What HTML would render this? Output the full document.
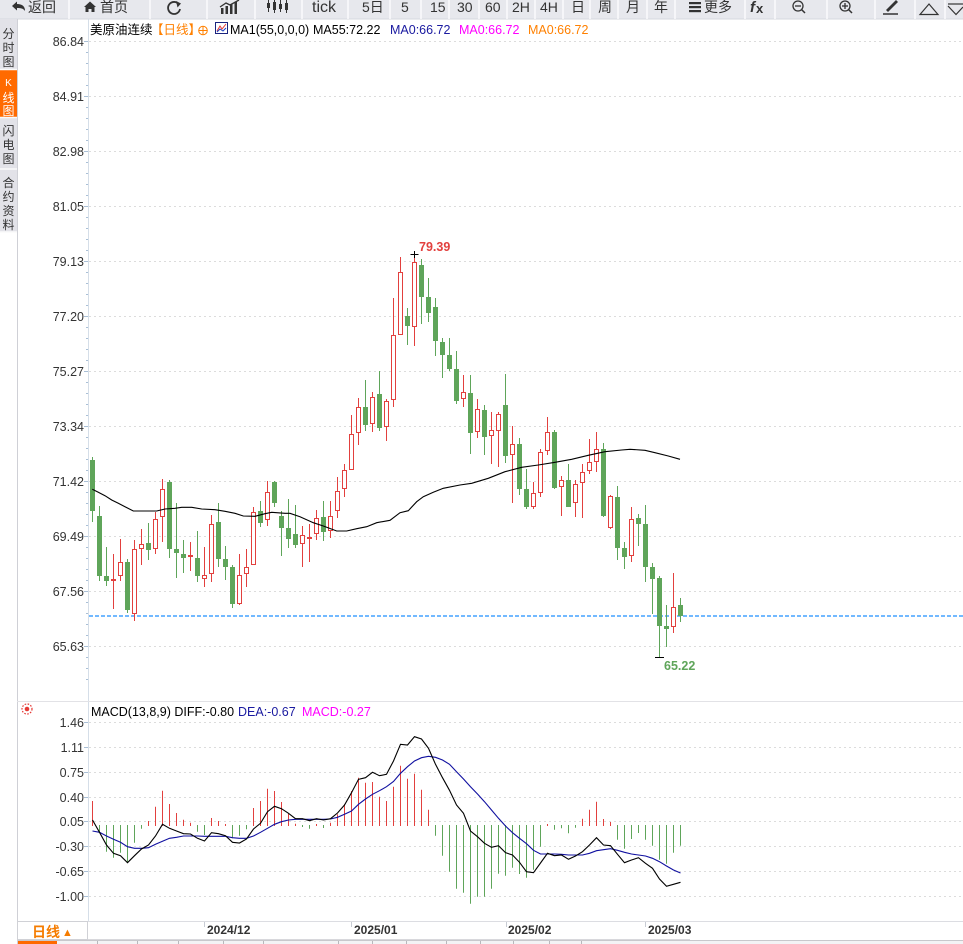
<!DOCTYPE html>
<html><head><meta charset="utf-8"><style>
html,body{margin:0;padding:0;background:#fff;width:963px;height:944px;overflow:hidden}
svg{display:block}
text{font-family:"Liberation Sans","Noto Sans CJK SC",sans-serif}
</style></head><body>
<svg width="963" height="944" viewBox="0 0 963 944" xmlns="http://www.w3.org/2000/svg">
<rect width="963" height="944" fill="#fff"/>
<!-- toolbar -->
<rect x="0" y="0" width="963" height="19" fill="#e7e8ed"/>
<line x1="0" y1="19" x2="963" y2="19" stroke="#d6d7de"/>
<g stroke="#fbfbfd" stroke-width="1.5">
<line x1="69" y1="0" x2="69" y2="19"/><line x1="150" y1="0" x2="150" y2="19"/><line x1="207" y1="0" x2="207" y2="19"/><line x1="255" y1="0" x2="255" y2="19"/><line x1="302" y1="0" x2="302" y2="19"/><line x1="348" y1="0" x2="348" y2="19"/><line x1="390" y1="0" x2="390" y2="19"/><line x1="421" y1="0" x2="421" y2="19"/><line x1="449" y1="0" x2="449" y2="19"/><line x1="479" y1="0" x2="479" y2="19"/><line x1="507" y1="0" x2="507" y2="19"/><line x1="535" y1="0" x2="535" y2="19"/><line x1="563" y1="0" x2="563" y2="19"/><line x1="590" y1="0" x2="590" y2="19"/><line x1="618" y1="0" x2="618" y2="19"/><line x1="647" y1="0" x2="647" y2="19"/><line x1="675" y1="0" x2="675" y2="19"/><line x1="745" y1="0" x2="745" y2="19"/><line x1="775" y1="0" x2="775" y2="19"/><line x1="827" y1="0" x2="827" y2="19"/><line x1="875" y1="0" x2="875" y2="19"/><line x1="915" y1="0" x2="915" y2="19"/><line x1="945" y1="0" x2="945" y2="19"/>
</g>
<g fill="#333" font-size="14">
<path d="M12 6 L17 1.5 V4 Q25 4 25 11 Q23 7.5 17 8 V10.5 Z" fill="#333"/>
<text x="28" y="12">返回</text>
<path d="M84 7 L90 1.5 L96 7 H94.5 V12 H91.5 V9 H88.5 V12 H85.5 V7 Z" fill="#333"/>
<text x="100" y="12">首页</text>
<path d="M179 4.5 A6 6 0 1 0 180 9" fill="none" stroke="#333" stroke-width="1.8"/>
<path d="M176 1 L181 3.5 L177.5 7.5 Z" fill="#333"/>
<rect x="221" y="8" width="2.5" height="6" /><rect x="225.5" y="6" width="2.5" height="8"/><rect x="230" y="4" width="2.5" height="10"/><rect x="234.5" y="2" width="2.5" height="12"/>
<path d="M220 7 L226 3 L230 5 L239 0" fill="none" stroke="#333" stroke-width="1.3"/>
<g stroke="#333" stroke-width="1"><line x1="268.5" y1="0" x2="268.5" y2="12"/><line x1="274.5" y1="0" x2="274.5" y2="13"/><line x1="280.5" y1="0" x2="280.5" y2="12"/><line x1="286.5" y1="0" x2="286.5" y2="13"/></g>
<rect x="267" y="3" width="3" height="5"/><rect x="273" y="2" width="3" height="8"/><rect x="279" y="4" width="3" height="5"/><rect x="285" y="3" width="3" height="7"/>
<text x="312" y="12" font-size="16">tick</text>
<text x="362" y="12">5日</text>
<text x="401" y="12">5</text>
<text x="430" y="12">15</text>
<text x="457" y="12">30</text>
<text x="485" y="12">60</text>
<text x="512" y="12">2H</text>
<text x="540" y="12">4H</text>
<text x="571" y="12">日</text>
<text x="598" y="12">周</text>
<text x="626" y="12">月</text>
<text x="654" y="12">年</text>
<rect x="689" y="2" width="12" height="2.2"/><rect x="689" y="6" width="12" height="2.2"/><rect x="689" y="10" width="12" height="2.2"/>
<text x="704" y="12">更多</text>
<text x="750" y="12" font-style="italic" font-weight="bold" font-size="15">f</text><text x="756" y="13" font-weight="bold" font-size="13">x</text>
<circle cx="798" cy="6" r="5" fill="none" stroke="#333" stroke-width="1.3"/><line x1="795" y1="6" x2="801" y2="6" stroke="#333" stroke-width="1.3"/><line x1="801.5" y1="9.5" x2="805" y2="13" stroke="#333" stroke-width="1.5"/>
<circle cx="845" cy="6" r="5" fill="none" stroke="#333" stroke-width="1.3"/><line x1="842" y1="6" x2="848" y2="6" stroke="#333" stroke-width="1.3"/><line x1="845" y1="3" x2="845" y2="9" stroke="#333" stroke-width="1.3"/><line x1="848.5" y1="9.5" x2="852" y2="13" stroke="#333" stroke-width="1.5"/>
<path d="M886 10 L896 0 L898 2 L888 12 Z" /><line x1="883" y1="14" x2="898" y2="14" stroke="#333" stroke-width="1.5"/>
<path d="M920 14.5 L929 4 L938 14.5 Z" fill="none" stroke="#333" stroke-width="1.2"/>
<line x1="948" y1="4" x2="963" y2="4" stroke="#333" stroke-width="1.2"/><path d="M948 6 L956 14.5 L963 7" fill="none" stroke="#333" stroke-width="1.2"/>
</g>
<!-- sidebar -->
<rect x="0" y="19" width="17" height="213" fill="#e2e2e8"/>
<rect x="0" y="70" width="17" height="47" fill="#ff6a00"/>
<g stroke="#fafafa" stroke-width="1.5"><line x1="0" y1="69.5" x2="17" y2="69.5"/><line x1="0" y1="117.5" x2="17" y2="117.5"/><line x1="0" y1="169" x2="17" y2="169"/><line x1="0" y1="232" x2="17" y2="232"/></g>
<line x1="17.5" y1="19" x2="17.5" y2="944" stroke="#cfd0d6"/>
<g font-size="12" fill="#333" text-anchor="middle">
<text x="8.5" y="38">分</text><text x="8.5" y="52">时</text><text x="8.5" y="66">图</text>
<text x="8.5" y="86" fill="#fff" font-size="10">K</text><text x="8.5" y="102" fill="#fff">线</text><text x="8.5" y="115" fill="#fff">图</text>
<text x="8.5" y="135">闪</text><text x="8.5" y="149">电</text><text x="8.5" y="163">图</text>
<text x="8.5" y="187">合</text><text x="8.5" y="201">约</text><text x="8.5" y="215">资</text><text x="8.5" y="229">料</text>
</g>
<!-- axis -->
<line x1="88.5" y1="19" x2="88.5" y2="921" stroke="#d5dee8"/>
<g stroke="#dcdcdc" stroke-dasharray="2 3">
<line x1="89" y1="41.5" x2="963" y2="41.5"/><line x1="89" y1="96.5" x2="963" y2="96.5"/><line x1="89" y1="151.5" x2="963" y2="151.5"/><line x1="89" y1="206.5" x2="963" y2="206.5"/><line x1="89" y1="261.5" x2="963" y2="261.5"/><line x1="89" y1="316.5" x2="963" y2="316.5"/><line x1="89" y1="371.5" x2="963" y2="371.5"/><line x1="89" y1="426.5" x2="963" y2="426.5"/><line x1="89" y1="481.5" x2="963" y2="481.5"/><line x1="89" y1="536.5" x2="963" y2="536.5"/><line x1="89" y1="591.5" x2="963" y2="591.5"/><line x1="89" y1="646.5" x2="963" y2="646.5"/>
<line x1="89" y1="722.5" x2="963" y2="722.5"/><line x1="89" y1="747.5" x2="963" y2="747.5"/><line x1="89" y1="772.5" x2="963" y2="772.5"/><line x1="89" y1="797.5" x2="963" y2="797.5"/><line x1="89" y1="821.5" x2="963" y2="821.5"/><line x1="89" y1="846.5" x2="963" y2="846.5"/><line x1="89" y1="871.5" x2="963" y2="871.5"/><line x1="89" y1="896.5" x2="963" y2="896.5"/>
</g>
<g stroke="#a9bfd6">
<path d="M84 41.5H88M84 96.5H88M84 151.5H88M84 206.5H88M84 261.5H88M84 316.5H88M84 371.5H88M84 426.5H88M84 481.5H88M84 536.5H88M84 591.5H88M84 646.5H88"/>
<path d="M84 722.5H88M84 747.5H88M84 772.5H88M84 797.5H88M84 821.5H88M84 846.5H88M84 871.5H88M84 896.5H88"/>
<path d="M86 52.5H88M86 63.5H88M86 74.5H88M86 85.5H88M86 107.5H88M86 118.5H88M86 129.5H88M86 140.5H88M86 162.5H88M86 173.5H88M86 184.5H88M86 195.5H88M86 217.5H88M86 228.5H88M86 239.5H88M86 250.5H88M86 272.5H88M86 283.5H88M86 294.5H88M86 305.5H88M86 327.5H88M86 338.5H88M86 349.5H88M86 360.5H88M86 382.5H88M86 393.5H88M86 404.5H88M86 415.5H88M86 437.5H88M86 448.5H88M86 459.5H88M86 470.5H88M86 492.5H88M86 503.5H88M86 514.5H88M86 525.5H88M86 547.5H88M86 558.5H88M86 569.5H88M86 580.5H88M86 602.5H88M86 613.5H88M86 624.5H88M86 635.5H88M86 657.5H88M86 668.5H88M86 679.5H88"/>
</g>
<g font-size="12.5" fill="#333" text-anchor="end">
<text x="84" y="46">86.84</text><text x="84" y="101">84.91</text><text x="84" y="156">82.98</text><text x="84" y="211">81.05</text><text x="84" y="266">79.13</text><text x="84" y="321">77.20</text><text x="84" y="376">75.27</text><text x="84" y="431">73.34</text><text x="84" y="486">71.42</text><text x="84" y="541">69.49</text><text x="84" y="596">67.56</text><text x="84" y="651">65.63</text>
<text x="84" y="727">1.46</text><text x="84" y="752">1.11</text><text x="84" y="777">0.75</text><text x="84" y="802">0.40</text><text x="84" y="826">0.05</text><text x="84" y="851">-0.30</text><text x="84" y="876">-0.65</text><text x="84" y="901">-1.00</text>
</g>
<!-- legend -->
<g font-size="12.5">
<text x="90" y="34" fill="#000">美原油连续</text>
<text x="151" y="34" fill="#ff8000">【日线】</text>
<circle cx="203" cy="30.5" r="4.3" fill="none" stroke="#ff8000" stroke-width="1"/><path d="M198.7 30.5H207.3M203 26.2V34.8" stroke="#ff8000" stroke-width="1"/>
<rect x="215.5" y="22.5" width="12" height="11" fill="#fff" stroke="#1a237e"/><path d="M217 31 L220 26 L222 29 L226 24" fill="none" stroke="#e53935" stroke-width="1"/><path d="M217 32 L220 29 L223 31 L226 28" fill="none" stroke="#1e40c0" stroke-width="1"/>
<text x="230" y="34" fill="#000">MA1(55,0,0,0)</text>
<text x="313" y="34" fill="#000">MA55:72.22</text>
<text x="390" y="34" fill="#1a1aa0">MA0:66.72</text>
<text x="459" y="34" fill="#ff00ff">MA0:66.72</text>
<text x="528" y="34" fill="#ff8000">MA0:66.72</text>
</g>
<!-- dashed current price -->
<line x1="89" y1="616" x2="963" y2="616" stroke="#1e8fff" stroke-width="1.2" stroke-dasharray="4 2"/>
<!-- candles -->
<g fill="none" stroke="#5fa55a" stroke-width="1">
<path d="M92.5 457V522 M99.5 506V581 M106.5 547V586 M127.5 559V613 M148.5 523V560 M169.5 480V558 M176.5 503V578 M183.5 540V573 M197.5 531V582 M218.5 503V567 M225.5 546V580 M232.5 565V608 M260.5 501V527 M274.5 481V507 M281.5 511V556 M288.5 499V548 M295.5 505V548 M323.5 501V541 M365.5 380V431 M379.5 371V431 M407.5 308V345 M421.5 259V324 M428.5 278V322 M435.5 298V356 M442.5 338V378 M449.5 338V371 M456.5 351V404 M470.5 375V454 M484.5 405V455 M505.5 374V463 M519.5 438V495 M526.5 469V509 M554.5 430V489 M568.5 464V507 M603.5 443V517 M617.5 486V560 M624.5 542V569 M638.5 514V546 M645.5 505V582 M652.5 563V614 M659.5 576V657 M666.5 605V647 M680.5 598V622"/>
</g>
<path fill="#5fa55a" d="M90 460h5V511h-5Z M97 516h5V576h-5Z M104 576h5V581h-5Z M125 562h5V610h-5Z M146 543h5V550h-5Z M167 482h5V549h-5Z M174 549h5V553h-5Z M181 554h5V558h-5Z M195 558h5V576h-5Z M216 522h5V559h-5Z M223 559h5V567h-5Z M230 567h5V604h-5Z M258 511h5V523h-5Z M272 482h5V503h-5Z M279 516h5V528h-5Z M286 528h5V539h-5Z M293 534h5V545h-5Z M321 517h5V532h-5Z M363 407h5V425h-5Z M377 394h5V428h-5Z M405 316h5V326h-5Z M419 265h5V297h-5Z M426 297h5V313h-5Z M433 307h5V341h-5Z M440 342h5V355h-5Z M447 355h5V369h-5Z M454 369h5V401h-5Z M468 393h5V433h-5Z M482 410h5V437h-5Z M503 405h5V456h-5Z M517 444h5V489h-5Z M524 489h5V507h-5Z M552 432h5V488h-5Z M566 480h5V507h-5Z M601 449h5V516h-5Z M615 497h5V548h-5Z M622 548h5V557h-5Z M636 518h5V524h-5Z M643 524h5V567h-5Z M650 567h5V579h-5Z M657 578h5V626h-5Z M664 626h5V629h-5Z M678 605h5V616h-5Z"/>
<path fill="none" stroke="#e2403e" stroke-width="1" d="M113.5 554V609 M120.5 539V581 M134.5 540V621 M141.5 529V565 M155.5 512V554 M162.5 479V542 M190.5 542V571 M204.5 547V587 M211.5 515V582 M239.5 554V605 M246.5 549V587 M253.5 507V565 M267.5 481V526 M302.5 526V567 M309.5 524V562 M316.5 510V540 M330.5 501V538 M337.5 477V518 M344.5 464V497 M351.5 415V470 M358.5 398V445 M372.5 392V432 M386.5 399V441 M393.5 298V407 M400.5 257V335 M414.5 254V346 M463.5 375V407 M477.5 399V438 M491.5 412V464 M498.5 412V467 M512.5 426V503 M533.5 482V509 M540.5 449V497 M547.5 417V455 M561.5 476V516 M575.5 480V517 M582.5 464V518 M589.5 439V474 M596.5 432V472 M610.5 495V529 M631.5 507V562 M673.5 573V633"/>
<path fill="#fff" stroke="#e2403e" stroke-width="1" d="M111.5 579.5h4V580.5h-4Z M118.5 562.5h4V575.5h-4Z M132.5 549.5h4V613.5h-4Z M139.5 544.5h4V548.5h-4Z M153.5 519.5h4V548.5h-4Z M160.5 489.5h4V516.5h-4Z M188.5 555.5h4V556.5h-4Z M202.5 575.5h4V578.5h-4Z M209.5 524.5h4V573.5h-4Z M237.5 575.5h4V603.5h-4Z M244.5 567.5h4V573.5h-4Z M251.5 512.5h4V564.5h-4Z M265.5 492.5h4V519.5h-4Z M300.5 535.5h4V543.5h-4Z M307.5 537.5h4V538.5h-4Z M314.5 518.5h4V533.5h-4Z M328.5 516.5h4V530.5h-4Z M335.5 491.5h4V510.5h-4Z M342.5 470.5h4V488.5h-4Z M349.5 434.5h4V469.5h-4Z M356.5 407.5h4V432.5h-4Z M370.5 397.5h4V423.5h-4Z M384.5 401.5h4V426.5h-4Z M391.5 335.5h4V399.5h-4Z M398.5 272.5h4V334.5h-4Z M412.5 262.5h4V326.5h-4Z M461.5 392.5h4V398.5h-4Z M475.5 409.5h4V431.5h-4Z M489.5 430.5h4V435.5h-4Z M496.5 414.5h4V430.5h-4Z M510.5 444.5h4V454.5h-4Z M531.5 493.5h4V506.5h-4Z M538.5 452.5h4V492.5h-4Z M545.5 432.5h4V450.5h-4Z M559.5 480.5h4V486.5h-4Z M573.5 484.5h4V502.5h-4Z M580.5 472.5h4V482.5h-4Z M587.5 462.5h4V470.5h-4Z M594.5 449.5h4V461.5h-4Z M608.5 496.5h4V527.5h-4Z M629.5 519.5h4V555.5h-4Z M671.5 607.5h4V626.5h-4Z"/>
<!-- MA55 -->
<polyline fill="none" stroke="#000" stroke-width="1.1" points="92.3,489.3 98.3,492.3 105,495.7 111.7,500 118.3,503.3 125,506.7 133.3,511 156.7,511 165,509 175,508.3 181.7,507.3 191.7,507.3 201.7,509 215,509.7 225,511.3 235,513.3 243.3,516 255,516.3 265,513.7 271.7,512.3 285,513.3 290,513.3 300,516.7 313.3,522.7 323.3,526 336.7,531 346.7,531 356.7,528.7 366.7,526.7 376.7,522.7 390,520.3 400,512.7 408.3,510.7 416.7,501.7 423.3,496.7 433.3,492.3 443.3,488.3 460,485 471.7,483.3 488.3,478.3 505,471.7 521.7,467.3 538.3,465 555,462.3 571.7,459.3 588.3,455.3 605,451.7 621.7,450 630,449.3 645,450.3 655,452.7 668.3,456 680,459.3"/>
<!-- high/low markers -->
<path d="M410.5 254.5h8M414.5 251v7" stroke="#000" stroke-width="1"/>
<text x="419" y="251" font-size="12.5" font-weight="bold" fill="#e2403e">79.39</text>
<path d="M655 657.5h9" stroke="#000" stroke-width="1"/>
<text x="664" y="670" font-size="12.5" font-weight="bold" fill="#5fa55a">65.22</text>
<!-- panel separator -->
<line x1="17" y1="701.5" x2="963" y2="701.5" stroke="#e2e2e6"/>
<!-- MACD legend -->
<circle cx="27" cy="709" r="2.3" fill="#e53935"/><circle cx="27" cy="709" r="5" fill="none" stroke="#e53935" stroke-width="1.2" stroke-dasharray="1.6 1.4"/>
<g font-size="12.5">
<text x="91" y="716" fill="#000">MACD(13,8,9) DIFF:-0.80</text>
<text x="238" y="716" fill="#1a1aa0">DEA:-0.67</text>
<text x="302" y="716" fill="#ff00ff">MACD:-0.27</text>
</g>
<!-- histogram -->
<path fill="none" stroke="#e2403e" stroke-width="1" d="M92.5 826V801 M148.5 826V821 M155.5 826V806.7 M162.5 826V790.7 M169.5 826V804 M176.5 826V813 M183.5 826V819.7 M190.5 826V822.7 M211.5 826V818 M218.5 826V821 M225.5 826V824 M253.5 826V808 M260.5 826V801 M267.5 826V788.7 M274.5 826V791 M281.5 826V802 M288.5 826V813.7 M295.5 826V823.7 M316.5 826V824 M330.5 826V822.7 M337.5 826V814.3 M344.5 826V804.3 M351.5 826V791 M358.5 826V777.7 M365.5 826V782.7 M372.5 826V782 M379.5 826V796.7 M386.5 826V801 M393.5 826V786.7 M400.5 826V765.7 M407.5 826V778.7 M414.5 826V773.7 M421.5 826V789.7 M428.5 826V809.7 M547.5 826V824 M582.5 826V818.7 M589.5 826V809.7 M596.5 826V801.7 M603.5 826V819 M610.5 826V822"/>
<path fill="none" stroke="#5fa55a" stroke-width="1" d="M99.5 825V832.7 M106.5 825V851.7 M113.5 825V857.7 M120.5 825V852.7 M127.5 825V862.3 M134.5 825V842.7 M141.5 825V828.7 M197.5 825V831.7 M204.5 825V835 M232.5 825V838.3 M239.5 825V835.7 M246.5 825V829.3 M302.5 825V827 M309.5 825V828.7 M323.5 825V828 M435.5 825V835.7 M442.5 825V855.7 M449.5 825V871.7 M456.5 825V888.7 M463.5 825V892.7 M470.5 825V903.7 M477.5 825V896.7 M484.5 825V896.7 M491.5 825V888.7 M498.5 825V873.7 M505.5 825V875.7 M512.5 825V867.7 M519.5 825V874 M526.5 825V877.7 M533.5 825V869.7 M540.5 825V846.7 M554.5 825V829.7 M561.5 825V828.3 M568.5 825V833.3 M575.5 825V827.7 M617.5 825V839.7 M624.5 825V848.7 M631.5 825V839 M638.5 825V833 M645.5 825V839.7 M652.5 825V845.7 M659.5 825V859.7 M666.5 825V863.7 M673.5 825V852.7 M680.5 825V845.7"/>
<!-- DEA -->
<polyline fill="none" stroke="#1010a0" stroke-width="1.1" points="92.5,831 99.5,832.3 106.5,836 113.5,839.3 120.5,842.3 127.5,846.7 134.5,848.3 141.5,848.3 148.5,847.7 155.5,844.3 162.5,841.3 169.5,838.3 176.5,837.3 183.5,836 190.5,836 197.5,836 204.5,836.3 211.5,836.3 218.5,836.3 225.5,836.3 232.5,837.7 239.5,838.3 246.5,838.3 253.5,836 260.5,832.3 267.5,828.3 274.5,824.3 281.5,821.7 288.5,820 295.5,819.3 302.5,819.3 309.5,819.3 316.5,819.3 323.5,819.3 330.5,819 337.5,817.3 344.5,814.3 351.5,811 358.5,804.3 365.5,799 372.5,794.3 379.5,790.7 386.5,786.7 393.5,781.5 400.5,773.3 407.5,766.7 414.5,761 421.5,757.7 428.5,756.3 435.5,757.3 442.5,760 449.5,764.3 456.5,771.7 463.5,779 470.5,786.7 477.5,794 484.5,801.7 491.5,810 498.5,818.3 505.5,826 512.5,832.7 519.5,838.3 526.5,843.7 533.5,850.3 540.5,854 547.5,854 554.5,854 561.5,854.3 568.5,855 575.5,855 582.5,855 589.5,853.3 596.5,850.7 603.5,849.7 610.5,848.7 617.5,850.3 624.5,852.3 631.5,854 638.5,855 645.5,856 652.5,858.3 659.5,861.7 666.5,866 673.5,870 680.5,873"/>
<!-- DIFF -->
<polyline fill="none" stroke="#000" stroke-width="1.1" points="92.5,820 99.5,832.3 106.5,845 113.5,853.3 120.5,855.7 127.5,862.7 134.5,855.7 141.5,849 148.5,845 155.5,836 162.5,824.3 169.5,828.3 176.5,831 183.5,833.7 190.5,834 197.5,838.3 204.5,841 211.5,832.7 218.5,833.7 225.5,835.7 232.5,842.3 239.5,843 246.5,839 253.5,829 260.5,823.3 267.5,811.7 274.5,806.3 281.5,808.7 288.5,813.3 295.5,818.7 302.5,818.7 309.5,820.7 316.5,818.7 323.5,820 330.5,818.7 337.5,813 344.5,805 351.5,792.7 358.5,779.3 365.5,777.7 372.5,772.3 379.5,775.7 386.5,774.3 393.5,761 400.5,744.3 407.5,745 414.5,736.7 421.5,739 428.5,748.3 435.5,764.3 442.5,777.7 449.5,790.3 456.5,805 463.5,813.3 470.5,831 477.5,836.7 484.5,843.3 491.5,847.3 498.5,845.7 505.5,852.7 512.5,855 519.5,862.3 526.5,871.7 533.5,872.7 540.5,863 547.5,853.3 554.5,855.7 561.5,855 568.5,859.3 575.5,856 582.5,851.7 589.5,845 596.5,837.7 603.5,845 610.5,845.7 617.5,854.3 624.5,862.7 631.5,860 638.5,857.7 645.5,863.3 652.5,868.3 659.5,879 666.5,886.3 673.5,884.3 680.5,882.3"/>
<!-- x axis -->
<line x1="17" y1="921.5" x2="963" y2="921.5" stroke="#dcdde2"/>
<rect x="17.5" y="921.5" width="70" height="18" fill="#fff" stroke="#d0d1d6"/>
<text x="32" y="937" font-size="14" fill="#f57c00" font-weight="bold">日线</text>
<text x="62" y="936" font-size="11" fill="#f57c00">▲</text>
<g stroke="#c8ccd4"><line x1="204.5" y1="922" x2="204.5" y2="927"/><line x1="351.5" y1="922" x2="351.5" y2="927"/><line x1="506.5" y1="922" x2="506.5" y2="927"/><line x1="645.5" y1="922" x2="645.5" y2="927"/></g>
<g font-size="12" font-weight="bold" fill="#333">
<text x="207" y="934">2024/12</text><text x="354" y="934">2025/01</text><text x="508" y="934">2025/02</text><text x="648" y="934">2025/03</text>
</g>
<line x1="88" y1="939.5" x2="690" y2="939.5" stroke="#d8d8dc"/>
<!-- bottom tabs -->
<rect x="18" y="940" width="945" height="4" fill="#f3f3f5"/>
<line x1="18" y1="940.5" x2="963" y2="940.5" stroke="#c8c8cc"/>
<rect x="18" y="941" width="39" height="3" fill="#ff6a00"/>
<g stroke="#b8b8bc"><line x1="97.5" y1="941" x2="97.5" y2="944"/><line x1="137.5" y1="941" x2="137.5" y2="944"/><line x1="178.5" y1="941" x2="178.5" y2="944"/><line x1="223.5" y1="941" x2="223.5" y2="944"/><line x1="263.5" y1="941" x2="263.5" y2="944"/><line x1="338.5" y1="941" x2="338.5" y2="944"/><line x1="372.5" y1="941" x2="372.5" y2="944"/><line x1="406.5" y1="941" x2="406.5" y2="944"/><line x1="446.5" y1="941" x2="446.5" y2="944"/><line x1="480.5" y1="941" x2="480.5" y2="944"/><line x1="513.5" y1="941" x2="513.5" y2="944"/><line x1="549.5" y1="941" x2="549.5" y2="944"/><line x1="581.5" y1="941" x2="581.5" y2="944"/></g>
</svg>
</body></html>
